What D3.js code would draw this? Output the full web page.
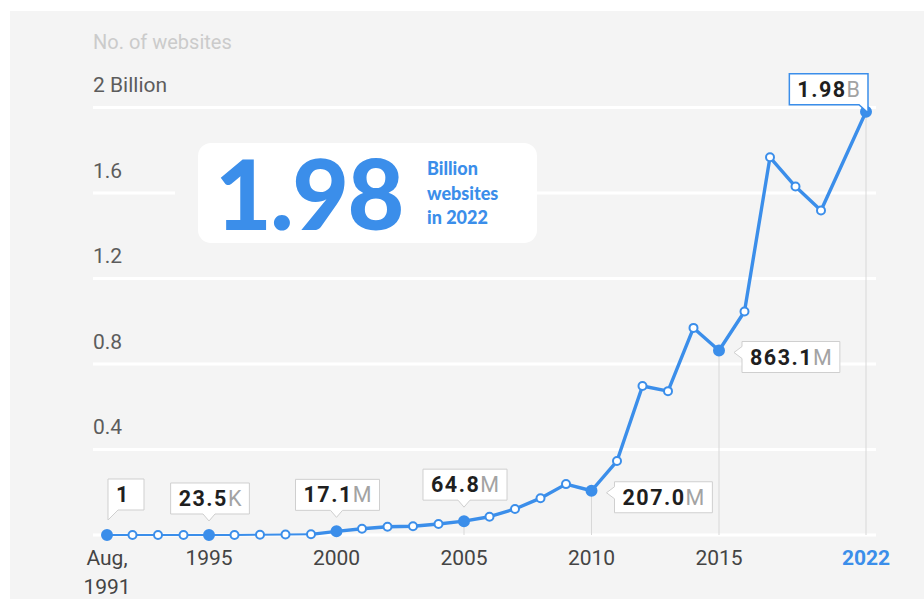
<!DOCTYPE html>
<html>
<head>
<meta charset="utf-8">
<script src="https://cdn.jsdelivr.net/npm/d3@7"></script>
<style>
  html, body { margin: 0; padding: 0; background: #ffffff; }
  svg { display: block; }
</style>
</head>
<body>
<svg id="chart" width="924" height="599"></svg>
<script>
// Number of websites on the web, by year
const years = [1991, 1992, 1993, 1994, 1995, 1996, 1997, 1998, 1999, 2000,
               2001, 2002, 2003, 2004, 2005, 2006, 2007, 2008, 2009, 2010,
               2011, 2012, 2013, 2014, 2015, 2016, 2017, 2018, 2019, 2022];
const websites = [1, 10, 130, 2738, 23500, 257601, 1117255, 2410067, 3177453, 17087182,
                  29254370, 38760373, 40912332, 51611646, 64780617, 85507314, 121892559, 172338726, 238027855, 206956723,
                  346004403, 697089489, 672985183, 968882453, 863105652, 1045534808, 1766926408, 1630322579, 1518207412, 1980000000];

const yTicks = [0, 4e8, 8e8, 1.2e9, 1.6e9, 2e9];
const yTickLabels = ["", "0.4", "0.8", "1.2", "1.6", "2 Billion"];
const xTicks = [1991, 1995, 2000, 2005, 2010, 2015, 2022];
const xTickLabels = [["Aug,", "1991"], ["1995"], ["2000"], ["2005"], ["2010"], ["2015"], ["2022"]];
const calloutYears = [1991, 1995, 2000, 2005, 2010, 2015, 2022];
const calloutPlacement = ["aboveLeft", "above", "above", "above", "right", "right", "aboveRight"];

const BLUE = "#3b8eea";
const BG = "#f4f4f4";
const FONT = "Roboto, 'Noto Sans', sans-serif";

const svg = d3.select("#chart");
const data = years.map((yr, i) => ({ year: yr, value: websites[i] }));
const lastPoint = data[data.length - 1];

svg.append("rect")
  .attr("x", 10).attr("y", 11).attr("width", 914).attr("height", 588)
  .attr("fill", BG);

// the years after 2019 are compressed at the right edge
const x = d3.scaleLinear().domain([1991, 2019, 2022]).range([107, 821, 866]);
const y = d3.scaleLinear().domain([0, 2e9]).range([535, 107.5]);

// horizontal gridlines
svg.append("g").selectAll("line").data(yTicks).join("line")
  .attr("x1", 93).attr("x2", 876)
  .attr("y1", d => y(d)).attr("y2", d => y(d))
  .attr("stroke", "#ffffff").attr("stroke-width", 3);

// y tick labels sit above their gridline
svg.append("g").selectAll("text").data(yTicks).join("text")
  .attr("x", 93).attr("y", d => y(d) - 15.5)
  .attr("font-family", FONT).attr("font-size", 21).attr("fill", "#5c5c5c")
  .text((d, i) => yTickLabels[i]);

svg.append("text")
  .attr("x", 93).attr("y", 49)
  .attr("font-family", FONT).attr("font-size", 20).attr("fill", "#cbcbcb")
  .text("No. of websites");

// headline card
svg.append("rect")
  .attr("x", 175).attr("y", 180).attr("width", 40).attr("height", 28)
  .attr("fill", BG);
svg.append("rect")
  .attr("x", 198).attr("y", 143).attr("width", 339).attr("height", 100)
  .attr("rx", 13).attr("fill", "#ffffff");
svg.append("text")
  .attr("x", 215).attr("y", 230)
  .attr("font-family", "Lato, sans-serif").attr("font-weight", 900)
  .attr("font-size", 98).attr("letter-spacing", -1.5).attr("fill", BLUE)
  .text(d3.format(".2f")(lastPoint.value / 1e9));
const headSub = svg.append("text")
  .attr("font-family", "Lato, sans-serif").attr("font-weight", 900)
  .attr("font-size", 18).attr("fill", BLUE);
["Billion", "websites", "in " + lastPoint.year].forEach((t, i) => {
  headSub.append("tspan").attr("x", 427).attr("y", 175 + i * 24.5).text(t);
});

// drop lines from highlighted points to the baseline
const highlighted = data.filter(d => calloutYears.includes(d.year));
svg.append("g").selectAll("line").data(highlighted).join("line")
  .attr("x1", d => x(d.year)).attr("x2", d => x(d.year))
  .attr("y1", d => y(d.value)).attr("y2", y(0))
  .attr("stroke", "#d8d8d8").attr("stroke-width", 1);

// series line: thinner through the early years
const line = d3.line().x(d => x(d.year)).y(d => y(d.value));
svg.append("path")
  .datum(data.filter(d => d.year <= 1999))
  .attr("d", line).attr("fill", "none")
  .attr("stroke", BLUE).attr("stroke-width", 2);
svg.append("path")
  .datum(data.filter(d => d.year >= 1999))
  .attr("d", line).attr("fill", "none")
  .attr("stroke", BLUE).attr("stroke-width", 3.4)
  .attr("stroke-linejoin", "round");

// points
svg.append("g").selectAll("circle").data(data).join("circle")
  .attr("cx", d => x(d.year)).attr("cy", d => y(d.value))
  .attr("r", d => calloutYears.includes(d.year) ? 5 : 4)
  .attr("fill", d => calloutYears.includes(d.year) ? BLUE : "#ffffff")
  .attr("stroke", BLUE).attr("stroke-width", 2);

// x axis labels
const xl = svg.append("g");
xTicks.forEach((t, i) => {
  const last = t === lastPoint.year;
  const txt = xl.append("text")
    .attr("text-anchor", "middle")
    .attr("font-family", FONT).attr("font-size", 21)
    .attr("font-weight", last ? 700 : 400)
    .attr("fill", last ? BLUE : "#444444");
  xTickLabels[i].forEach((s, j) => {
    txt.append("tspan").attr("x", x(t)).attr("y", 565 + j * 29).text(s);
  });
});

// value callouts
function splitLabel(v) {
  if (v < 1e3) return [String(v), ""];
  if (v < 1e6) return [d3.format(".1f")(v / 1e3), "K"];
  if (v < 1e9) return [d3.format(".1f")(v / 1e6), "M"];
  return [d3.format(".2f")(v / 1e9), "B"];
}

const BOX_H = 31, PAD = 8;
calloutYears.forEach((yr, i) => {
  const d = data.find(p => p.year === yr);
  const px = x(d.year), py = y(d.value);
  const place = calloutPlacement[i];
  const isLast = d === lastPoint;
  const [num, unit] = splitLabel(d.value);

  const g = svg.append("g");
  const bubble = g.append("path")
    .attr("fill", "#ffffff")
    .attr("stroke", isLast ? BLUE : "#cfcfcf").attr("stroke-width", isLast ? 1.5 : 1);
  const txt = g.append("text")
    .attr("font-family", FONT).attr("font-size", 21.5);
  txt.append("tspan").attr("font-weight", 700).attr("fill", "#1f1f1f")
    .attr("letter-spacing", 1.5).text(num);
  if (unit) txt.append("tspan").attr("font-weight", 400).attr("fill", "#a3a3a3").text(unit);

  const w = Math.max(36, txt.node().getComputedTextLength() + 2 * PAD);
  let bx, by, path;
  if (place === "aboveLeft") {
    bx = px + 1; by = py - 25 - BOX_H;
    const b = by + BOX_H;
    path = `M${bx},${by}H${bx + w}V${b}H${bx + 10}L${bx},${b + 10}Z`;
  } else if (place === "above") {
    bx = px - w / 2 + 1; by = py - 21 - BOX_H;
    const b = by + BOX_H;
    path = `M${bx},${by}H${bx + w}V${b}H${px + 6}L${px},${b + 7}L${px - 6},${b}H${bx}Z`;
  } else if (place === "right") {
    bx = px + 23; by = py - 9;
    const b = by + BOX_H;
    path = `M${bx},${by}H${bx + w}V${b}H${bx}V${by + 17}L${bx - 8},${by + 11}L${bx},${by + 5}Z`;
  } else {
    const right = px + 2;
    bx = right - w; by = py - 7 - BOX_H;
    const b = by + BOX_H;
    path = `M${bx},${by}H${right}V${b + 8}L${right - 9},${b}H${bx}Z`;
  }
  bubble.attr("d", path);
  txt.attr("x", bx + PAD).attr("y", by + 23);
});
</script>
</body>
</html>
